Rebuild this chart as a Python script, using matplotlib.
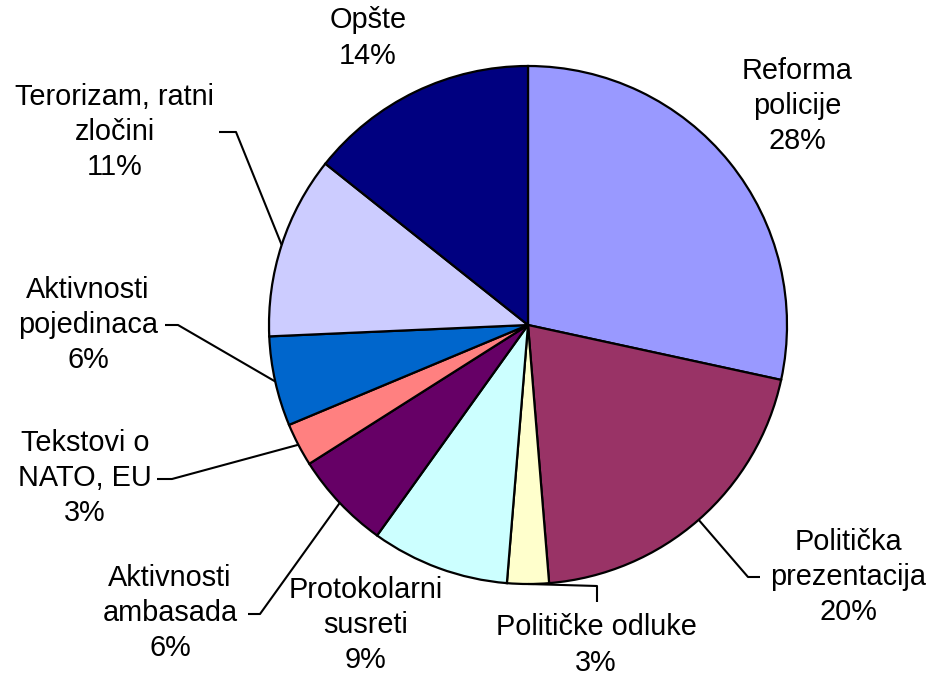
import numpy as np
import matplotlib
matplotlib.use('Agg')
import matplotlib.pyplot as plt

# slice data, clockwise from 12 o'clock
labels = ['Reforma\npolicije', 'Politička\nprezentacija', 'Političke odluke',
          'Protokolarni\nsusreti', 'Aktivnosti\nambasada', 'Tekstovi o\nNATO, EU',
          'Aktivnosti\npojedinaca', 'Terorizam, ratni\nzločini', 'Opšte']
shares = [28.4, 20.3, 2.6, 8.6, 6.1, 2.7, 5.6, 11.4, 14.3]
colors = ['#9999FF', '#993366', '#FFFFCC', '#CCFFFF', '#660066',
          '#FF8080', '#0066CC', '#CCCCFF', '#000080']

W, H = 929, 677

# label block centres (px from top-left)
label_pos = [(797, 106), (848, 577), (596, 645), (366, 625), (170, 613),
             (85, 478), (88, 325), (115, 132), (368, 38)]
# leader lines: text end, elbow (None = no leader)
leaders = [None, ((760, 577), (748, 577)), ((597, 602), (597, 586)), None,
           ((248, 614), (260, 614)), ((157, 479), (172, 479)),
           ((165, 325), (178, 325)), ((219, 132), (236, 132)), None]


def main():
	plt.rcParams['font.family'] = ['Liberation Sans', 'DejaVu Sans']
	fig = plt.figure(figsize=(W / 100, H / 100), dpi=100)
	ax = fig.add_axes([0, 0, 1, 1])

	cx, cy, r = 528, H - 325, 259
	wedges, _ = ax.pie(shares, colors=colors, startangle=90, counterclock=False,
	                   center=(cx, cy), radius=r, frame=True,
	                   wedgeprops=dict(edgecolor='black', linewidth=1.6))
	ax.set_xlim(0, W)
	ax.set_ylim(0, H)
	ax.set_aspect('equal')
	ax.axis('off')

	for w, lab, val, pos, ld in zip(wedges, labels, shares, label_pos, leaders):
		ax.text(pos[0], H - pos[1], '%s\n%d%%' % (lab, round(val)),
		        ha='center', va='center', fontsize=20.8, linespacing=1.32)
		if ld is None:
			continue
		mid = np.deg2rad((w.theta1 + w.theta2) / 2)
		ex, ey = cx + r * np.cos(mid), cy + r * np.sin(mid)
		xs = [ld[0][0], ld[1][0], ex]
		ys = [H - ld[0][1], H - ld[1][1], ey]
		ax.plot(xs, ys, color='black', lw=1.5, solid_capstyle='butt')

	fig.savefig('out.png', dpi=100)


if __name__ == '__main__':
	main()
